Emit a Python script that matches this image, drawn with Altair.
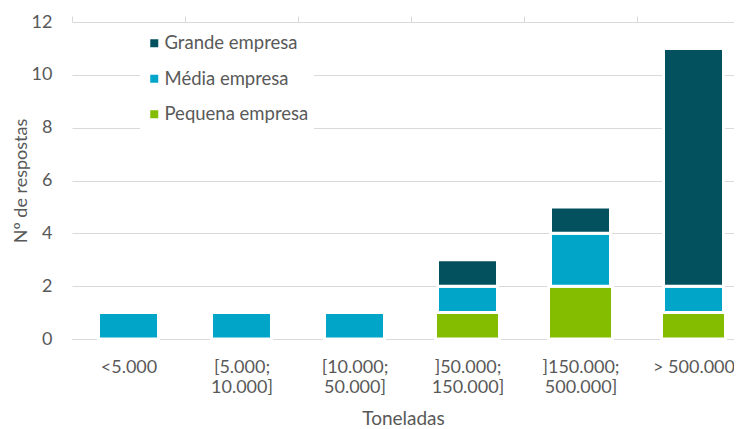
import altair as alt
import pandas as pd
import json

categories = ["<5.000", "[5.000; 10.000]", "[10.000; 50.000]",
              "]50.000; 150.000]", "]150.000; 500.000]", "> 500.000"]
pequena = [0, 0, 0, 1, 2, 1]
media = [1, 1, 1, 1, 2, 1]
grande = [0, 0, 0, 1, 1, 9]
series = ["Grande empresa", "Média empresa", "Pequena empresa"]
colors = ["#03505f", "#00a5c8", "#84bd00"]
y_ticks = [0, 2, 4, 6, 8, 10, 12]

rows = []
for i, c in enumerate(categories):
    base = 0
    for name, vals in [("Pequena empresa", pequena), ("Média empresa", media), ("Grande empresa", grande)]:
        v = vals[i]
        if v > 0:
            rows.append({"cat": c, "pos": i + 0.5, "serie": name, "y0": base, "y1": base + v})
        base += v
df = pd.DataFrame(rows)

FONT = "Lato"
GREY = "#595959"
LINE = "#d9d9d9"

# category labels, split into two lines after ';'
label_lines = [[c.split("; ")[0] + ";", c.split("; ")[1]] if "; " in c else [c] for c in categories]
label_expr = json.dumps(label_lines).replace('"', "'") + "[floor(datum.value)]"

PLOT_W = 662
# the visible plot shows part of a 6-band axis whose bands are 113 px wide (last band cut by the edge)
x_scale = alt.Scale(domain=[0, PLOT_W / 113], nice=False, zero=False, padding=0)

x_lab_axis = alt.Axis(
    title="Toneladas", values=[i + 0.5 for i in range(len(categories))], labelExpr=label_expr,
    labelAngle=0, grid=False, domainColor=LINE, ticks=False, tickSize=0, labelPadding=19,
    labelFont=FONT, labelFontSize=18, labelColor=GREY, labelLineHeight=20,
    labelBound=False, labelOverlap=False, labelFlush=False,
    titleFont=FONT, titleFontSize=19, titleFontWeight="normal", titleColor=GREY,
    titlePadding=13,
)
x_tick_axis = alt.Axis(
    title=None, values=list(range(len(categories) + 1)), labels=False, domain=False,
    grid=False, ticks=True, tickSize=6, tickColor=LINE,
)
y_enc = alt.Y(
    "y0:Q",
    scale=alt.Scale(domain=[0, 12]),
    axis=alt.Axis(
        title="Nº de respostas", values=y_ticks, grid=True, gridColor=LINE, domain=False,
        ticks=False, tickSize=0, labelPadding=20, labelFont=FONT, labelFontSize=18,
        labelColor=GREY, titleFont=FONT, titleFontSize=18, titleFontWeight="normal",
        titleColor=GREY, titleX=-42,
    ),
)
color_enc = alt.Color(
    "serie:N",
    scale=alt.Scale(domain=series, range=colors),
    legend=alt.Legend(
        title=None, orient="none", legendX=68, legendY=7, symbolType="square",
        symbolSize=64, symbolStrokeWidth=0, labelFont=FONT, labelFontSize=18.5,
        labelColor=GREY, rowPadding=16.5, labelOffset=1, padding=5, fillColor="white",
    ),
)

base = alt.Chart(df)
small = base.mark_bar(size=64, stroke="white", strokeWidth=3).encode(
    x=alt.X("pos:Q", scale=x_scale, axis=x_lab_axis), y=y_enc, y2="y1:Q", color=color_enc
).transform_filter("datum.serie === 'Pequena empresa'")
others = base.mark_bar(size=60, stroke="white", strokeWidth=3).encode(
    x=alt.X("pos:Q", scale=x_scale, axis=x_tick_axis), y=y_enc, y2="y1:Q", color=color_enc
).transform_filter("datum.serie !== 'Pequena empresa'")

chart = alt.layer(small, others).resolve_axis(x="independent").properties(
    width=PLOT_W, height=317,
    autosize=alt.AutoSizeParams(type="none"),
    padding={"left": 64, "top": 14, "right": 0, "bottom": 90},
).configure_view(stroke=None)

chart.save("out.html", embed_options={"renderer": "svg", "actions": False})
